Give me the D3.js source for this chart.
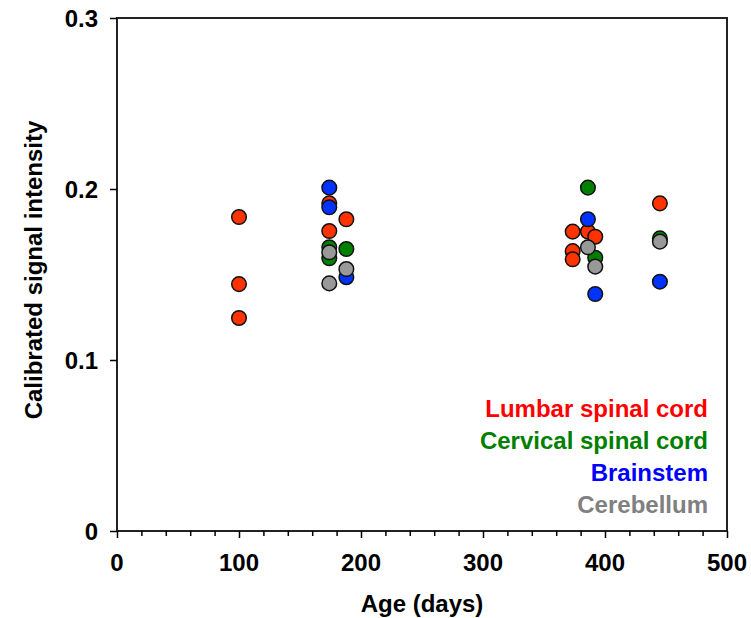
<!DOCTYPE html>
<html><head><meta charset="utf-8">
<script src="https://cdn.jsdelivr.net/npm/d3@7"></script>
<style>body{margin:0;background:#fff}svg{font-family:"Liberation Sans",Arial,sans-serif;font-weight:bold}</style>
</head><body><svg id="c" width="751" height="618"></svg>
<script>
const seriesNames = ["Lumbar spinal cord","Cervical spinal cord","Brainstem","Cerebellum"];
const fillColors = ["#ff3300","#008000","#0033ff","#999999"];
const textColors = ["#ff0000","#008000","#0000ff","#808080"];
const lumbarAge = [100,100,100,174,174,188,373.5,386,392,373.5,373.5,445];
const lumbarVal = [0.1836,0.1444,0.1246,0.1916,0.1754,0.1823,0.1751,0.1751,0.1721,0.1637,0.1589,0.1916];
const cervicalAge = [174,174,188,386,392,445];
const cervicalVal = [0.1659,0.1595,0.1649,0.2008,0.1598,0.1711];
const brainstemAge = [174,174,188,386,392,445];
const brainstemVal = [0.2008,0.1893,0.1484,0.1823,0.1386,0.1458];
const cerebellumAge = [174,174,188,386,392,445];
const cerebellumVal = [0.1630,0.1448,0.1532,0.1659,0.1546,0.1692];
const xTicks = [0,100,200,300,400,500];
const yTicks = [0,0.1,0.2,0.3];

const series = [
  {age: lumbarAge, val: lumbarVal},
  {age: cervicalAge, val: cervicalVal},
  {age: brainstemAge, val: brainstemVal},
  {age: cerebellumAge, val: cerebellumVal}
];

const svg = d3.select("#c");
const L=117, R=727, T=18, B=531;
const x = d3.scaleLinear().domain([0,500]).range([L,R]);
const y = d3.scaleLinear().domain([0,0.3]).range([B,T]);

svg.append("rect").attr("x",L).attr("y",T).attr("width",R-L).attr("height",B-T)
  .attr("fill","none").attr("stroke","#222").attr("stroke-width",2);

const xa = svg.append("g").attr("transform",`translate(0,${B})`)
  .call(d3.axisBottom(x).tickValues(d3.range(0,501,20)).tickSize(5).tickFormat(""));
xa.select(".domain").remove();
xa.selectAll("line").attr("stroke","#000").attr("stroke-width",1.5);
xa.selectAll(".tick").filter(d=>d%100===0).select("line").attr("y2",7);
xTicks.forEach(t=>{
  svg.append("text").attr("x",x(t)).attr("y",571).attr("text-anchor","middle")
    .attr("font-size",24).attr("fill","#000").text(t);
});

const ya = svg.append("g").attr("transform",`translate(${L},0)`)
  .call(d3.axisLeft(y).tickValues(yTicks).tickSize(7).tickFormat(""));
ya.select(".domain").remove();
ya.selectAll("line").attr("stroke","#000").attr("stroke-width",1.5);
yTicks.forEach(t=>{
  svg.append("text").attr("x",98).attr("y",y(t)+9).attr("text-anchor","end")
    .attr("font-size",24).attr("fill","#000").text(t===0?"0":d3.format(".1f")(t));
});

svg.append("text").attr("x",422).attr("y",612).attr("text-anchor","middle")
  .attr("font-size",24).text("Age (days)");
svg.append("text").attr("transform",`translate(42,${270}) rotate(-90)`).attr("text-anchor","middle")
  .attr("font-size",24).text("Calibrated signal intensity");

series.forEach((s,i)=>{
  svg.append("g").selectAll("circle").data(s.age.map((a,j)=>[a,s.val[j]])).join("circle")
    .attr("cx",d=>x(d[0])).attr("cy",d=>y(d[1])).attr("r",7.3)
    .attr("fill",fillColors[i]).attr("stroke","#111").attr("stroke-width",1.5);
});

seriesNames.forEach((n,i)=>{
  svg.append("text").attr("x",708).attr("y",417+i*32).attr("text-anchor","end")
    .attr("font-size",24).attr("fill",textColors[i]).text(n);
});
</script></body></html>
